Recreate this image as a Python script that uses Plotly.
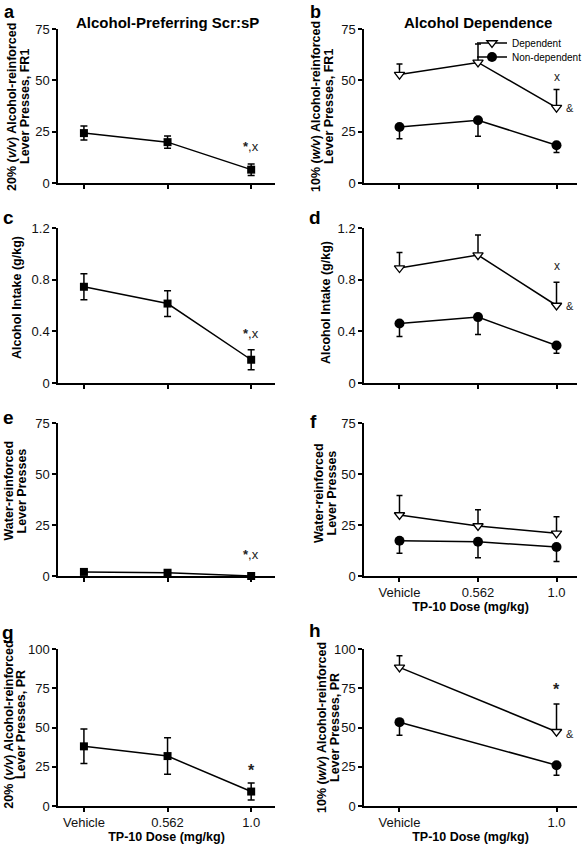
import plotly.graph_objects as go

# ---------------- data ----------------
doses = ["Vehicle", "0.562", "1.0"]
doses_pr = ["Vehicle", "1.0"]

# Alcohol-preferring Scr:sP (left column)
sp_fr1_mean = [24.3, 19.9, 6.5]
sp_fr1_sem = [3.4, 3.0, 2.8]
sp_intake_mean = [0.745, 0.615, 0.18]
sp_intake_sem = [0.10, 0.10, 0.078]
sp_water_mean = [2.0, 1.6, 0.0]
sp_water_sem = [0.8, 0.8, 0.3]
sp_pr_mean = [38.0, 31.8, 9.2]
sp_pr_sem = [11.0, 11.6, 5.4]

# Alcohol dependence (right column)
dep_fr1_mean = [52.8, 58.7, 36.7]
dep_fr1_sem = [5.2, 9.0, 8.8]
nd_fr1_mean = [27.3, 30.6, 18.4]
nd_fr1_sem = [5.7, 7.8, 3.6]

dep_intake_mean = [0.89, 0.99, 0.60]
dep_intake_sem = [0.12, 0.155, 0.18]
nd_intake_mean = [0.46, 0.51, 0.29]
nd_intake_sem = [0.10, 0.135, 0.06]

dep_water_mean = [29.9, 24.5, 20.9]
dep_water_sem = [9.5, 8.0, 8.2]
nd_water_mean = [17.3, 16.8, 14.2]
nd_water_sem = [6.2, 7.8, 7.1]

dep_pr_mean = [88.3, 47.3]
dep_pr_sem = [7.4, 17.7]
nd_pr_mean = [53.4, 26.0]
nd_pr_sem = [8.4, 6.4]

# ---------------- layout helpers ----------------
W, H = 588, 845
FONT = "Liberation Sans, Arial, Helvetica, sans-serif"


def px(x):
    return x / W


def py(y):
    return 1 - y / H


xpos = [doses.index(d) for d in doses]
xpos_pr = [doses.index(d) for d in doses_pr]

fig = go.Figure()


def sp_trace(mean, sem, n):
    return go.Scatter(
        x=xpos, y=mean, mode="lines+markers",
        line=dict(color="black", width=1.5),
        marker=dict(symbol="square", size=8, color="black"),
        error_y=dict(type="data", array=sem, symmetric=True, color="black",
                     thickness=1.5, width=3.5),
        xaxis="x" + ("" if n == 1 else str(n)), yaxis="y" + ("" if n == 1 else str(n)),
        showlegend=False, cliponaxis=False)


def dep_traces(xs, dmean, dsem, nmean, nsem, n, show=False):
    ax = "" if n == 1 else str(n)
    t_dep = go.Scatter(
        x=xs, y=dmean, mode="lines+markers", name="Dependent",
        line=dict(color="black", width=1.5),
        marker=dict(symbol="triangle-down", size=9, color="white",
                    line=dict(color="black", width=1.3)),
        error_y=dict(type="data", array=dsem, arrayminus=[0] * len(dsem),
                     symmetric=False, color="black", thickness=1.5, width=3),
        xaxis="x" + ax, yaxis="y" + ax, showlegend=show, legend="legend",
        cliponaxis=False)
    t_nd = go.Scatter(
        x=xs, y=nmean, mode="lines+markers", name="Non-dependent",
        line=dict(color="black", width=1.5),
        marker=dict(symbol="circle", size=10, color="black"),
        error_y=dict(type="data", array=[0] * len(nsem), arrayminus=nsem,
                     symmetric=False, color="black", thickness=1.5, width=3),
        xaxis="x" + ax, yaxis="y" + ax, showlegend=show, legend="legend2",
        cliponaxis=False)
    return [t_dep, t_nd]


# left column
fig.add_trace(sp_trace(sp_fr1_mean, sp_fr1_sem, 1))
fig.add_trace(sp_trace(sp_intake_mean, sp_intake_sem, 3))
fig.add_trace(sp_trace(sp_water_mean, sp_water_sem, 5))
fig.add_trace(sp_trace(sp_pr_mean, sp_pr_sem, 7))
# right column
for t in dep_traces(xpos, dep_fr1_mean, dep_fr1_sem, nd_fr1_mean, nd_fr1_sem, 2, show=True):
    fig.add_trace(t)
for t in dep_traces(xpos, dep_intake_mean, dep_intake_sem, nd_intake_mean, nd_intake_sem, 4):
    fig.add_trace(t)
for t in dep_traces(xpos, dep_water_mean, dep_water_sem, nd_water_mean, nd_water_sem, 6):
    fig.add_trace(t)
for t in dep_traces(xpos_pr, dep_pr_mean, dep_pr_sem, nd_pr_mean, nd_pr_sem, 8):
    fig.add_trace(t)

# ---------------- axes ----------------
left_dom = [px(58), px(275)]
right_dom = [px(364), px(577)]
rows = [(29, 183), (228, 383), (423, 576), (649, 806)]
left_range = [-0.31, 2.285]
right_range = [-0.452, 2.261]

common = dict(showline=True, linecolor="black", linewidth=1.5, ticks="outside",
              ticklen=4, tickwidth=1.5, tickcolor="black", showgrid=False,
              zeroline=False, automargin=False,
              tickfont=dict(family=FONT, size=13, color="#111"))

yticks = {
    1: ([0, 25, 50, 75], ["0", "25", "50", "75"], [0, 75]),
    2: ([0, 25, 50, 75], ["0", "25", "50", "75"], [0, 75]),
    3: ([0, 0.4, 0.8, 1.2], ["0", "0.4", "0.8", "1.2"], [0, 1.2]),
    4: ([0, 0.4, 0.8, 1.2], ["0", "0.4", "0.8", "1.2"], [0, 1.2]),
    5: ([0, 25, 50, 75], ["0", "25", "50", "75"], [0, 75]),
    6: ([0, 25, 50, 75], ["0", "25", "50", "75"], [0, 75]),
    7: ([0, 25, 50, 75, 100], ["0", "25", "50", "75", "100"], [0, 100]),
    8: ([0, 25, 50, 75, 100], ["0", "25", "50", "75", "100"], [0, 100]),
}
xlabels_shown = {6, 7, 8}

for n in range(1, 9):
    ax = "" if n == 1 else str(n)
    left = (n % 2 == 1)
    r = rows[(n - 1) // 2]
    ydom = [py(r[1]), py(r[0])]
    xdom = left_dom if left else right_dom
    tv, tt, yr = yticks[n]
    if n == 8:
        xtv, xtt = xpos_pr, doses_pr
    else:
        xtv, xtt = xpos, doses
    xa = dict(common, domain=xdom, range=left_range if left else right_range,
              anchor="y" + ax, tickmode="array", tickvals=xtv,
              ticktext=xtt if n in xlabels_shown else [""] * len(xtt))
    if n in xlabels_shown:
        xa["title"] = dict(text="<b>TP-10 Dose (mg/kg)</b>",
                           font=dict(family=FONT, size=12.5, color="black"),
                           standoff=3)
    ya = dict(common, domain=ydom, range=yr, anchor="x" + ax,
              tickmode="array", tickvals=tv, ticktext=tt)
    fig.layout["xaxis" + ax] = xa
    fig.layout["yaxis" + ax] = ya

# ---------------- annotations ----------------
ann = []


def txt(x, y, s, size=12.5, bold=False, angle=0, yanchor="middle", **kw):
    ann.append(dict(x=x, y=y, xref="paper", yref="paper", text=("<b>%s</b>" % s) if bold else s,
                    showarrow=False, textangle=angle, xanchor="center", yanchor=yanchor,
                    font=dict(family=FONT, size=size, color="black"), **kw))


# panel letters
txt(px(9), 1.0, "a", size=18, bold=True, yanchor="top")
txt(px(315), 1.0, "b", size=18, bold=True, yanchor="top")
for letter, (lx, ly) in {"c": (8, 217), "d": (315, 217),
                         "e": (8, 417), "f": (313, 421), "g": (8, 632), "h": (315, 630)}.items():
    txt(px(lx), py(ly), letter, size=19, bold=True)

# column titles
txt(px(167), py(22), "Alcohol-Preferring Scr:sP", size=15, bold=True)
txt(px(478), py(22), "Alcohol Dependence", size=15, bold=True)

# y-axis titles (one annotation per line)
ytitles = [
    (12, 107, "20% (<i>v/v</i>) Alcohol-reinforced"), (25, 107, "Lever Presses, FR1"),
    (316, 107, "10% (<i>w/v</i>) Alcohol-reinforced"), (329, 107, "Lever Presses, FR1"),
    (17, 298, "Alcohol Intake (g/kg)"),
    (326, 302, "Alcohol Intake (g/kg)"),
    (8.5, 491, "Water-reinforced"), (21.5, 491, "Lever Presses"),
    (319, 493, "Water-reinforced"), (331.5, 493, "Lever Presses"),
    (8.7, 725, "20% (<i>v/v</i>) Alcohol-reinforced"), (21, 725, "Lever Presses, PR"),
    (322, 728, "10% (<i>w/v</i>) Alcohol-reinforced"), (335, 728, "Lever Presses, PR"),
]
for x, y, s in ytitles:
    txt(px(x), py(y), s, size=12.5, bold=True, angle=-90)

# significance markers (data coordinates)
sig = [
    (1, 2, 18.0, "<b>*</b>,x", 0, 13), (3, 2, 0.38, "<b>*</b>,x", 0, 13),
    (5, 2, 10.5, "<b>*</b>,x", 0, 13), (7, 2, 22.8, "<b>*</b>", 0, 16),
    (2, 2, 51.5, "x", 0, 12), (2, 2, 36.5, "&", 13, 11),
    (4, 2, 0.905, "x", 0, 12), (4, 2, 0.60, "&", 13, 11),
    (8, 2, 74.0, "<b>*</b>", 0, 16), (8, 2, 46.0, "&", 13, 11),
]
for n, x, y, s, shift, size in sig:
    ax = "" if n == 1 else str(n)
    ann.append(dict(x=x, y=y, xref="x" + ax, yref="y" + ax, text=s, showarrow=False,
                    xshift=shift, font=dict(family=FONT, size=size, color="#222")))

fig.update_layout(
    annotations=ann,
    width=W, height=H, autosize=False,
    margin=dict(l=0, r=0, t=0, b=0, pad=0, autoexpand=False),
    paper_bgcolor="white", plot_bgcolor="white",
    font=dict(family=FONT, color="black"),
    legend=dict(x=px(472), y=py(43), xanchor="left", yanchor="middle",
                font=dict(family=FONT, size=10, color="black"),
                bgcolor="rgba(0,0,0,0)", borderwidth=0, itemwidth=30),
    legend2=dict(x=px(472), y=py(57), xanchor="left", yanchor="middle",
                 font=dict(family=FONT, size=10, color="black"),
                 bgcolor="rgba(0,0,0,0)", borderwidth=0, itemwidth=30),
)

fig.write_html(
    "out.html",
    config={"displayModeBar": False},
    post_script="document.body.style.margin='0px';document.body.style.overflow='hidden';",
)
